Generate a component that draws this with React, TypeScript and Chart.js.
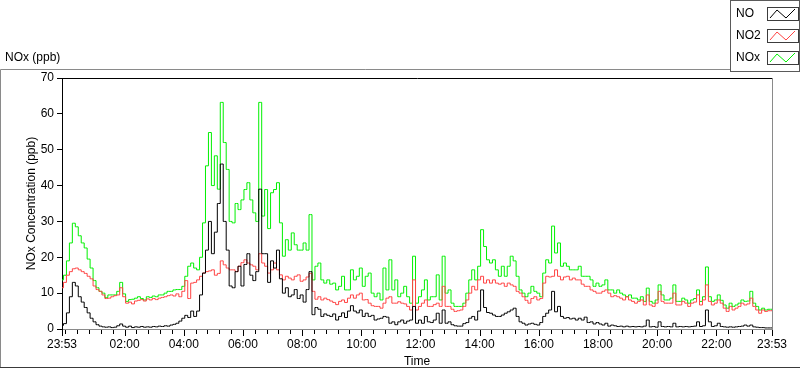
import React, { useEffect, useRef } from "react";
import { Chart, registerables } from "chart.js";

Chart.register(...registerables);

const FONT = '"Liberation Sans", Arial, sans-serif';
const START_OF_DAY_MIN = 23 * 60 + 53; // 23:53
const SAMPLE_STEP_MIN = 6;
const X_MAX_MIN = 1440;
const X_MAJOR_TICKS = [0, 127, 247, 367, 487, 607, 727, 847, 967, 1087, 1207, 1327, 1440];
const X_MINOR_FIRST = 7;
const X_MINOR_STEP = 24;
const Y_MIN = 0;
const Y_MAX = 70;
const Y_STEP = 10;

const SERIES_NAMES = ["NO", "NO2", "NOx"];
const SERIES_COLORS = ["#000000", "#ff4343", "#00f000"];

const NO = [
  1.0, 1.5, 4.5, 9, 13, 12, 9, 7.5, 6, 4.5,
  3, 2, 1.2, 0.8, 0.6, 0.5, 0.6, 0.4, 0.5, 0.9,
  1.4, 0.8, 0.5, 0.8, 0.4, 0.6, 0.5, 0.7, 0.5, 0.6,
  0.5, 0.7, 0.6, 0.8, 0.7, 0.9, 0.8, 1.1, 1.3, 1.6,
  2.2, 3.0, 3.8, 3.2, 5.0, 3.5, 5.0, 9.5, 15.6, 22,
  30, 21, 27, 35, 46, 30, 22, 12, 11.5, 16,
  17.5, 12, 18, 21, 15, 13.5, 16, 39, 21, 21,
  13, 19, 17, 22, 14, 10, 11.5, 9, 9.5, 11,
  8.5, 9.5, 7.5, 11, 16, 4, 6, 5.5, 3.5, 4.2,
  3.8, 3.5, 4.2, 2.5, 3.5, 4.5, 3.2, 5, 6.5, 5,
  4.5, 5.3, 3.5, 4.4, 3.5, 3.8, 2.5, 2.8, 3, 3.5,
  3.3, 1.6, 2, 1.2, 2, 2.5, 1.6, 2.2, 2.5, 6.3,
  1.6, 2.5, 1.6, 3.5, 2, 1.8, 2.5, 4.4, 1.6, 5.3,
  1.6, 2, 1.2, 0.9, 0.8, 0.8, 1.5, 1.8, 3, 3.5,
  2.5, 5, 10.9, 6, 4.6, 4.4, 3.9, 3.5, 3.5, 3.9,
  4.4, 4.8, 5.3, 5.8, 3.5, 2, 1.6, 1.1, 1.4, 1.6,
  1.3, 1.1, 1.8, 3.5, 4.4, 5.3, 10.5, 4.8, 6.3, 3.5,
  3, 3.2, 2.8, 3, 2.5, 3, 2.5, 3.3, 1.8, 2,
  1.4, 1.8, 1.4, 1.1, 1.6, 0.8, 1.1, 0.9, 0.7, 0.8,
  0.6, 0.8, 0.6, 0.7, 0.6, 0.7, 0.6, 0.8, 2.5, 0.6,
  0.7, 0.5, 2, 0.7, 0.6, 0.7, 0.6, 1.6, 0.6, 0.7,
  0.6, 0.7, 0.6, 0.7, 0.8, 2, 0.7, 0.9, 5.3, 2,
  0.7, 0.9, 1.6, 0.7, 0.6, 0.5, 0.6, 0.5, 0.6, 0.7,
  0.8, 1.1, 0.8, 1.1, 0.6, 0.5, 0.4, 0.4, 0.3, 0.3,
  0.3,
];

const NO2 = [
  11.5, 13, 15, 16, 16.8, 17, 16.5, 16, 15.5, 14.7,
  14, 12, 11, 10.5, 9.5, 8.5, 8.6, 9, 9.3, 9.5,
  11.5, 9, 7.2, 7.5, 7, 7.8, 8, 8.2, 7.8, 8.4,
  8.1, 8.5, 8.2, 8.6, 8.8, 9, 9.3, 9.5, 9.2, 9.8,
  9.0, 10.5, 13.5, 8.5, 12.8, 13, 13.7, 14.7, 15.6, 16,
  16.2, 16.5, 15, 15.5, 19, 17.9, 17, 16.5, 16.5, 16,
  17.5, 18.5, 19.3, 18.4, 17.9, 17.5, 16.5, 21, 18.4, 17.5,
  15.6, 16.5, 18.4, 16.5, 15.1, 13.7, 14.7, 14.2, 13.7, 14.7,
  15.1, 13.3, 13.7, 14.5, 15.5, 10.5, 8.3, 9, 8.1, 8.6,
  8.2, 7.8, 7.4, 6.8, 7.7, 8.1, 7.4, 8.6, 9.5, 8.6,
  9.5, 10, 8.1, 8.2, 7.2, 6.5, 6.3, 6.3, 5.8, 7.2,
  8.6, 9, 7.2, 7.2, 7.6, 7.2, 7, 6.3, 5.3, 13.7,
  5.3, 6.3, 7.2, 8.1, 6.3, 6.3, 6.8, 7.2, 6.3, 11.9,
  6.3, 6.3, 5.5, 4.9, 5.1, 5.3, 6.3, 8.1, 10, 11.9,
  10.9, 13.7, 14.7, 12.8, 13.7, 12.8, 13.7, 12.8, 12.5, 12.8,
  11.9, 12.8, 12.3, 11.9, 10.5, 10, 9, 8, 7.2, 8.5,
  9, 8.1, 8.5, 12.8, 14.7, 14.5, 14.7, 16.5, 14.7, 13.7,
  14.5, 14.7, 13.7, 14.2, 13.7, 13.7, 12.5, 11.9, 11.9, 10.9,
  10.5, 10, 10, 10.5, 10.9, 10, 9, 9.3, 9, 8.6,
  8.1, 9, 8.1, 7.7, 7.2, 7.7, 8.1, 6.7, 9.5, 6.7,
  6.3, 7.2, 10.5, 7.7, 7.2, 7.2, 7.2, 10, 6.7, 6.7,
  7.7, 7.2, 6.3, 7.2, 7.5, 9.5, 6.7, 8.1, 12.3, 7.7,
  6.7, 7.2, 8.1, 7.2, 5.8, 4.9, 6.3, 5.3, 5.8, 6.3,
  7.2, 6.7, 7, 8.6, 6.3, 5.3, 4.4, 5.3, 4.9, 5.1,
  5.1,
];

const NOX = [
  13.7, 15, 19, 24, 29.5, 28.5, 26, 24, 22.6, 19.5,
  17, 13.5, 11.5, 10.5, 10, 8.8, 9.5, 9.5, 9.5, 10.5,
  13, 9.8, 7.7, 8.2, 8.3, 8.6, 9, 8.5, 8.1, 9,
  8.8, 9.2, 9, 9.5, 9.5, 10, 10.5, 10.5, 10.9, 11,
  11, 11.9, 14.7, 17.5, 18.4, 17, 16.5, 20, 29.6, 45.5,
  54.8, 40, 48.3, 39, 63.2, 52, 44.5, 30, 29.6, 35,
  33.3, 36, 38.9, 40.8, 36, 32.4, 30, 63.2, 31.5, 38.9,
  28, 38, 38.9, 40.8, 29.6, 20.3, 24.9, 22, 26.8, 23.5,
  22, 22, 24, 22, 31.9, 13.7, 17.5, 18.4, 13.7, 12.8,
  13.7, 12.5, 12.8, 10.9, 11.9, 14.7, 10.9, 10.9, 16.5, 13.7,
  14.7, 17, 11.9, 14.7, 15.6, 10, 9, 10, 8.1, 17,
  10.9, 19.3, 10.9, 13.7, 9, 10, 11.9, 9, 7.2, 20.3,
  7.2, 9, 10.9, 13.7, 8.1, 9, 9, 15.1, 8.1, 20.3,
  10, 10.9, 7.2, 6.3, 6.3, 6.3, 7.2, 10, 13.7, 16.5,
  13.7, 17.5, 27.7, 23, 19.3, 18.4, 19.3, 16.5, 14.7, 17.5,
  14.7, 17.5, 20.3, 19, 14.7, 10.9, 10, 9, 10, 11.9,
  10.5, 10, 9, 15.6, 19.3, 18.4, 28.7, 21.2, 24, 17.5,
  18.4, 17.5, 16.5, 16.5, 16.5, 17.5, 14.7, 14.7, 14.7, 13.7,
  11.9, 12.8, 11.9, 12.3, 13.7, 10.9, 10.9, 10, 10.9, 10,
  9.5, 9, 9.5, 8.6, 8.6, 8.1, 9, 7.7, 11.4, 7.7,
  7.2, 8.1, 12.3, 9.5, 8.1, 8.1, 8.6, 12.3, 7.7, 7.7,
  8.6, 8.1, 7.2, 8.1, 8.5, 10.9, 7.7, 9, 17.3, 9,
  7.7, 8.1, 9.5, 8, 6.7, 5.8, 7.2, 6.3, 6.7, 7.2,
  8.1, 7.7, 7.8, 10.5, 7.2, 6.3, 5.3, 5.8, 5.3, 5.5,
  5.5,
];

const SERIES_VALUES = [NO, NO2, NOX];

function fmtTime(v: number): string {
  const m = (((START_OF_DAY_MIN + Math.round(v)) % 1440) + 1440) % 1440;
  const hh = Math.floor(m / 60);
  const mm = m % 60;
  return `${String(hh).padStart(2, "0")}:${String(mm).padStart(2, "0")}`;
}

const framePlugin = {
  id: "labviewFrame",
  beforeDraw(chart: any) {
    const ctx = chart.ctx;
    ctx.save();
    ctx.fillStyle = "#ffffff";
    ctx.fillRect(0, 0, chart.width, chart.height);
    ctx.restore();
  },
  afterDraw(chart: any) {
    const ctx = chart.ctx;
    const { left, right, top, bottom } = chart.chartArea;
    ctx.save();
    ctx.lineWidth = 1;

    // outer frame
    ctx.strokeStyle = "#8a8a8a";
    ctx.beginPath();
    ctx.moveTo(0.5, 368);
    ctx.lineTo(0.5, 69.5);
    ctx.lineTo(731, 69.5);
    ctx.stroke();
    ctx.strokeStyle = "#3a3a3a";
    ctx.beginPath();
    ctx.moveTo(0, 367.5);
    ctx.lineTo(800, 367.5);
    ctx.stroke();

    // plot top and right borders
    ctx.strokeStyle = "#000000";
    ctx.beginPath();
    ctx.moveTo(left, Math.round(top) + 0.5);
    ctx.lineTo(right + 1, Math.round(top) + 0.5);
    ctx.stroke();
    ctx.strokeStyle = "#8a8a8a";
    ctx.beginPath();
    ctx.moveTo(Math.round(right) + 0.5, top);
    ctx.lineTo(Math.round(right) + 0.5, bottom + 1);
    ctx.stroke();

    // x tick marks (major + minor)
    const xs = chart.scales.x;
    ctx.strokeStyle = "#000000";
    const drawTick = (v: number, len: number) => {
      const px = Math.round(xs.getPixelForValue(v)) + 0.5;
      ctx.beginPath();
      ctx.moveTo(px, bottom + 1);
      ctx.lineTo(px, bottom + 1 + len);
      ctx.stroke();
    };
    X_MAJOR_TICKS.forEach((v) => drawTick(v, 6));
    for (let v = X_MINOR_FIRST; v < X_MAX_MIN; v += X_MINOR_STEP) {
      if (!X_MAJOR_TICKS.includes(v)) drawTick(v, 4);
    }

    // unit label
    ctx.fillStyle = "#000000";
    ctx.font = `12px ${FONT}`;
    ctx.textBaseline = "middle";
    ctx.textAlign = "left";
    ctx.fillText("NOx (ppb)", 5, 58);

    // legend
    ctx.fillStyle = "#ffffff";
    ctx.fillRect(730, 0, 70, 72);
    ctx.strokeStyle = "#5a5a5a";
    ctx.strokeRect(730.5, 0.5, 69, 71);
    const rowsY = [14, 36, 58];
    SERIES_NAMES.forEach((name, i) => {
      const yc = rowsY[i];
      ctx.fillStyle = "#000000";
      ctx.fillText(name, 736, yc);
      ctx.strokeStyle = "#3c3c3c";
      ctx.strokeRect(767.5, yc - 6.5, 31, 13);
      ctx.strokeStyle = SERIES_COLORS[i];
      ctx.beginPath();
      ctx.moveTo(770, yc + 4);
      ctx.lineTo(777, yc - 4);
      ctx.lineTo(786, yc + 4);
      ctx.lineTo(795, yc - 5);
      ctx.stroke();
    });

    ctx.restore();
  },
};

export default function App() {
  const canvasRef = useRef<HTMLCanvasElement | null>(null);

  useEffect(() => {
    document.body.style.margin = "0";
    const canvas = canvasRef.current;
    if (!canvas) return;

    const datasets = SERIES_NAMES.map((name, si) => ({
      label: name,
      data: SERIES_VALUES[si].map((y, i) => ({ x: i * SAMPLE_STEP_MIN, y })),
      borderColor: SERIES_COLORS[si],
      backgroundColor: SERIES_COLORS[si],
      borderWidth: 1,
      pointRadius: 0,
      stepped: "middle",
      fill: false,
    }));

    const chart = new Chart(canvas, {
      type: "line",
      data: { datasets },
      options: {
        responsive: false,
        maintainAspectRatio: false,
        animation: false,
        devicePixelRatio: 1,
        layout: { padding: { left: 0, top: 78, right: 28, bottom: 0 } },
        plugins: {
          legend: { display: false },
          tooltip: { enabled: false },
        },
        scales: {
          x: {
            type: "linear",
            min: 0,
            max: X_MAX_MIN,
            afterBuildTicks: (scale: any) => {
              scale.ticks = X_MAJOR_TICKS.map((v) => ({ value: v }));
            },
            afterFit: (scale: any) => {
              scale.height = 40;
            },
            ticks: {
              autoSkip: false,
              maxRotation: 0,
              minRotation: 0,
              padding: 3,
              color: "#000000",
              font: { size: 12, family: FONT },
              callback: (v: any) => fmtTime(Number(v)),
            },
            grid: {
              display: true,
              drawOnChartArea: false,
              drawTicks: true,
              tickLength: 5,
              tickColor: "rgba(0,0,0,0)",
            },
            border: { display: true, color: "#8a8a8a" },
            title: {
              display: true,
              text: "Time",
              color: "#000000",
              font: { size: 12, family: FONT },
              padding: { top: 0, bottom: 0 },
            },
          },
          y: {
            type: "linear",
            min: Y_MIN,
            max: Y_MAX,
            afterFit: (scale: any) => {
              scale.width = 62;
            },
            ticks: {
              stepSize: Y_STEP,
              padding: 3,
              color: "#000000",
              font: { size: 12, family: FONT },
            },
            grid: {
              display: true,
              drawOnChartArea: false,
              drawTicks: true,
              tickLength: 5,
              tickColor: "#000000",
            },
            border: { display: true, color: "#000000" },
            title: {
              display: true,
              text: "NOx Concentration (ppb)",
              color: "#000000",
              font: { size: 12, family: FONT },
              padding: { top: 24, bottom: 0 },
            },
          },
        },
      },
      plugins: [framePlugin],
    } as any);

    return () => chart.destroy();
  }, []);

  return (
    <div style={{ width: 800, height: 369, position: "relative" }}>
      <canvas ref={canvasRef} width={800} height={369} style={{ display: "block" }} />
    </div>
  );
}
